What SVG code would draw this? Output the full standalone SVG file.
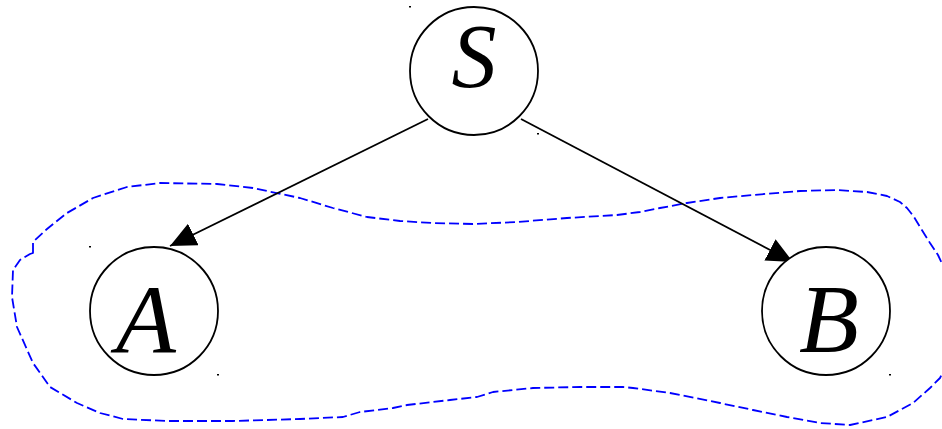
<svg xmlns="http://www.w3.org/2000/svg" width="942" height="429" viewBox="0 0 942 429">
<style>
.node circle{fill:#fff;stroke:#000;stroke-width:1.8}
.node text{font-family:"Liberation Serif","Times New Roman",serif;font-style:italic;fill:#000;text-anchor:middle}
.dot{fill:#000}
.edge{stroke:#000;stroke-width:1.8;fill:none;marker-end:url(#arrow)}
.region{fill:none;stroke:#0000ff;stroke-width:1.8;stroke-dasharray:10 4;stroke-linejoin:round}
</style>
<defs>
<marker id="arrow" markerUnits="userSpaceOnUse" markerWidth="26" markerHeight="24" refX="26" refY="12" orient="auto" viewBox="0 0 26 24">
<path d="M0,0 L26,12 L0,24 Z" fill="#000"/>
</marker>
</defs>
<rect width="942" height="429" fill="#fff"/>
<g id="region">
<path class="region" d="M33,253 L33,242 L47,229 L67,213 L93,198 L127,187 L160,183 L217,184 L253,188 L300,198 L333,208 L367,217 L400,221 L433,223 L473,224 L517,222 L567,218 L617,215 L640,212 L660,208 L687,203 L720,198 L753,195 L800,191 L837,190 L867,192 L887,196 L900,202 L907,208 L914,217 L920,227 L930,243 L938,255 L945,270 L950,320 L945,368 L940,378 L930,388 L913,403 L887,417 L850,425 L820,423 L787,417 L753,410 L720,403 L670,393 L633,388 L623,387 L580,387 L533,388 L493,392 L477,397 L450,400 L407,405 L393,408 L360,412 L343,417 L300,419 L233,421 L167,421 L123,419 L100,413 L77,403 L50,387 L33,363 L17,327 L12,297 L13,270 L20,260 L30,254 Z"/>
</g>
<g id="connectors">
<line class="edge" x1="428" y1="119" x2="170" y2="246"/>
<line class="edge" x1="521" y1="119" x2="793" y2="262"/>
</g>
<g id="node-S" class="node">
<circle cx="474" cy="71" r="64"/>
<text x="474" y="87" font-size="90">S</text>
<rect class="dot" x="409" y="6" width="2" height="1.5"/>
<rect class="dot" x="537" y="133" width="2" height="1.5"/>
</g>
<g id="node-A" class="node">
<circle cx="154" cy="311" r="64"/>
<text x="146" y="352" font-size="98">A</text>
<rect class="dot" x="89" y="246" width="2" height="1.5"/>
<rect class="dot" x="217" y="374" width="2" height="1.5"/>
</g>
<g id="node-B" class="node">
<circle cx="826" cy="311" r="64"/>
<text x="829" y="352" font-size="98">B</text>
<rect class="dot" x="889" y="374" width="2" height="1.5"/>
</g>
</svg>
